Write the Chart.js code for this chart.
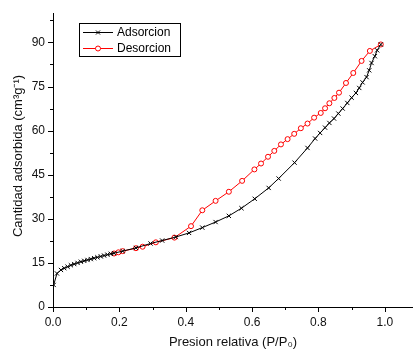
<!DOCTYPE html>
<html lang="es">
<head>
    <meta charset="UTF-8">
    <title>Isoterma de adsorción</title>
    <script src="https://cdn.jsdelivr.net/npm/chart.js"></script>
    <style>
        html, body { margin: 0; padding: 0; background: #fff; }
        canvas { display: block; }
    </style>
</head>
<body>
    <canvas id="isoterma" width="413" height="350"></canvas>
    <script>
        // Rama de adsorción (P/P0, cm3/g)
        const adsPresion = [0.002, 0.012, 0.024, 0.034, 0.044, 0.054, 0.064, 0.074, 0.084, 0.094,
            0.104, 0.114, 0.124, 0.134, 0.144, 0.154, 0.164, 0.174, 0.184, 0.21, 0.25, 0.294,
            0.329, 0.37, 0.41, 0.45, 0.49, 0.53, 0.568, 0.608, 0.65, 0.68, 0.728, 0.767, 0.79,
            0.805, 0.82, 0.833, 0.847, 0.86, 0.873, 0.887, 0.9, 0.913, 0.923, 0.933, 0.945,
            0.953, 0.96, 0.97, 0.977, 0.988];
        const adsVolumen = [7.5, 11.4, 12.6, 13.2, 13.7, 14.2, 14.6, 15.0, 15.4, 15.7,
            16.0, 16.3, 16.6, 16.9, 17.2, 17.5, 17.8, 18.1, 18.3, 19.0, 20.1, 21.6,
            22.6, 23.8, 25.2, 27.0, 28.9, 31.0, 33.6, 36.8, 40.5, 43.7, 49.1, 54.1, 57.3,
            59.2, 61.0, 62.6, 64.1, 65.8, 67.5, 69.4, 71.2, 72.8, 74.5, 76.4, 78.2,
            80.5, 83.0, 85.3, 87.3, 89.3];

        // Rama de desorción
        const desPresion = [0.988, 0.955, 0.93, 0.905, 0.883, 0.862, 0.848, 0.833, 0.82, 0.807,
            0.787, 0.767, 0.747, 0.727, 0.707, 0.687, 0.667, 0.648, 0.627, 0.607, 0.57, 0.53,
            0.49, 0.45, 0.416, 0.366, 0.31, 0.27, 0.25, 0.21, 0.197, 0.184];
        const desVolumen = [89.3, 87.1, 83.7, 79.6, 76.2, 72.9, 71.1, 69.3, 67.6, 66.0,
            64.4, 62.4, 60.8, 58.9, 57.1, 55.3, 53.1, 51.1, 48.8, 46.8, 42.9, 39.2,
            36.1, 32.9, 27.5, 23.6, 22.0, 20.5, 20.0, 19.0, 18.6, 18.2];

        // Marcas de los ejes (principales y secundarias)
        const xTicks = [0, 0.1, 0.2, 0.3, 0.4, 0.5, 0.6, 0.7, 0.8, 0.9, 1.0];
        const xLabels = [0, 0.2, 0.4, 0.6, 0.8, 1.0];
        const yTicks = [0, 7.5, 15, 22.5, 30, 37.5, 45, 52.5, 60, 67.5, 75, 82.5, 90, 97.5];
        const yLabels = [0, 15, 30, 45, 60, 75, 90];

        const series = [
            { label: 'Adsorcion', x: adsPresion, y: adsVolumen, color: '#000000', style: 'crossRot', radius: 3, fill: '#000000' },
            { label: 'Desorcion', x: desPresion, y: desVolumen, color: '#ff0000', style: 'circle', radius: 2.5, fill: '#ffffff' }
        ];

        const familia = '"Liberation Sans", Arial, sans-serif';
        const isLabel = (list, v) => list.some(t => Math.abs(t - v) < 1e-6);

        // Marcas de graduación hacia fuera (las secundarias más cortas) y título vertical
        const tickMarks = {
            id: 'tickMarks',
            afterDraw(chart) {
                const ctx = chart.ctx;
                const xs = chart.scales.x, ys = chart.scales.y;
                ctx.save();
                ctx.strokeStyle = '#000';
                ctx.lineWidth = 1;
                ctx.beginPath();
                xTicks.forEach(v => {
                    const px = Math.round(xs.getPixelForValue(v)) + 0.5;
                    const len = isLabel(xLabels, v) ? 5 : 3;
                    ctx.moveTo(px, xs.top);
                    ctx.lineTo(px, xs.top + len);
                });
                yTicks.forEach(v => {
                    const py = Math.round(ys.getPixelForValue(v)) + 0.5;
                    const len = isLabel(yLabels, v) ? 5 : 3;
                    ctx.moveTo(ys.right, py);
                    ctx.lineTo(ys.right - len, py);
                });
                ctx.stroke();

                ctx.translate(18, 156);
                ctx.rotate(-Math.PI / 2);
                ctx.font = '13px ' + familia;
                ctx.fillStyle = '#111';
                ctx.textAlign = 'center';
                ctx.textBaseline = 'middle';
                ctx.fillText('Cantidad adsorbida (cm³g⁻¹)', 0, 0);
                ctx.restore();
            }
        };

        // Leyenda en recuadro, arriba a la izquierda
        const boxLegend = {
            id: 'boxLegend',
            afterDraw(chart) {
                const ctx = chart.ctx;
                ctx.save();
                ctx.strokeStyle = '#000';
                ctx.lineWidth = 1;
                ctx.strokeRect(79.5, 23.5, 101, 33);
                ctx.font = '12px ' + familia;
                ctx.textBaseline = 'middle';
                series.forEach((s, i) => {
                    const y = 32.5 + i * 16;
                    ctx.strokeStyle = s.color;
                    ctx.beginPath();
                    ctx.moveTo(83, y);
                    ctx.lineTo(113, y);
                    ctx.stroke();
                    ctx.fillStyle = s.fill;
                    ctx.beginPath();
                    if (s.style === 'circle') {
                        ctx.arc(98, y, s.radius, 0, Math.PI * 2);
                        ctx.fill();
                        ctx.stroke();
                    } else {
                        ctx.moveTo(96, y - 2); ctx.lineTo(100, y + 2);
                        ctx.moveTo(96, y + 2); ctx.lineTo(100, y - 2);
                        ctx.stroke();
                    }
                    ctx.fillStyle = '#000';
                    ctx.fillText(s.label, 117, y + 0.5);
                });
                ctx.restore();
            }
        };

        const datasets = series.map(s => ({
            label: s.label,
            data: s.x.map((p, i) => ({ x: p, y: s.y[i] })),
            borderColor: s.color,
            borderWidth: 1,
            pointStyle: s.style,
            pointRadius: s.radius,
            pointBorderColor: s.color,
            pointBackgroundColor: s.fill,
            pointBorderWidth: 1,
            tension: 0
        }));

        const fuente = { family: familia, size: 12 };

        new Chart(document.getElementById('isoterma'), {
            type: 'scatter',
            data: { datasets },
            options: {
                responsive: false,
                animation: false,
                showLine: true,
                layout: { autoPadding: false, padding: { top: 13, right: 0, left: 0, bottom: 0 } },
                plugins: { legend: { display: false }, tooltip: { enabled: false } },
                scales: {
                    x: {
                        type: 'linear',
                        min: 0,
                        max: 1.085,
                        afterFit(scale) {
                            scale.height = 43;
                            scale.paddingLeft = 0;
                            scale.paddingRight = 0;
                        },
                        afterBuildTicks(scale) { scale.ticks = xLabels.map(v => ({ value: v })); },
                        grid: { display: false, drawTicks: false, tickLength: 0 },
                        border: { display: true, color: '#000', width: 1 },
                        ticks: {
                            padding: 8,
                            color: '#111',
                            font: fuente,
                            maxRotation: 0,
                            callback: v => v.toFixed(1)
                        },
                        title: {
                            display: true,
                            text: 'Presion relativa (P/P₀)',
                            color: '#111',
                            font: { family: familia, size: 13 },
                            padding: { top: 0, bottom: 0 }
                        }
                    },
                    y: {
                        type: 'linear',
                        min: 0,
                        max: 100,
                        afterFit(scale) {
                            scale.width = 53;
                            scale.paddingTop = 0;
                            scale.paddingBottom = 0;
                        },
                        afterBuildTicks(scale) { scale.ticks = yLabels.map(v => ({ value: v })); },
                        grid: { display: false, drawTicks: false, tickLength: 0 },
                        border: { display: true, color: '#000', width: 1 },
                        ticks: {
                            padding: 8,
                            color: '#111',
                            font: fuente,
                            callback: v => String(v)
                        },
                        title: { display: false }
                    }
                }
            },
            plugins: [tickMarks, boxLegend]
        });
    </script>
</body>
</html>
